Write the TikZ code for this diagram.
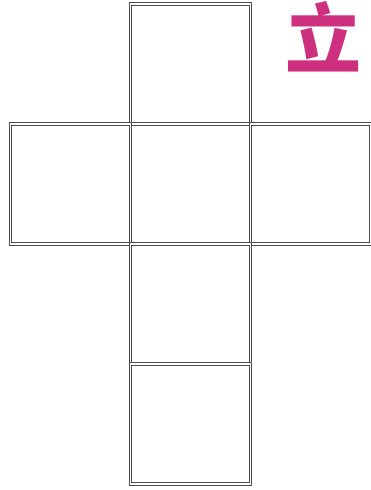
\documentclass[tikz,border=0pt]{standalone}
\usepackage{fontspec}
\usepackage[dvipsnames]{xcolor}
\usepackage{tikz}
\usetikzlibrary{positioning}
\newfontfamily\cjk{Noto Sans CJK SC}
\definecolor{inkpink}{RGB}{206,48,128}
\tikzstyle{face} = [draw=black!70, line width=0.9pt, double=white, double distance=1.3pt,
  minimum width=120pt, minimum height=120pt, inner sep=0pt, outer sep=0pt]
\tikzstyle{glyph} = [text=inkpink, inner sep=0pt,
  font={\cjk\bfseries\fontsize{76pt}{76pt}\selectfont}]

\begin{document}
\begin{tikzpicture}[x=1pt, y=-1pt, node distance=0pt]
\useasboundingbox (0,0) rectangle (371,490);
% cube net
\node[face] (top) at (190.5,64) {};
\node[face, below=of top] (front) {};
\node[face, left=of front] (left) {};
\node[face, right=of front] (right) {};
\node[face, below=of front] (bottom) {};
\node[face, below=of bottom] (back) {};
% corner mark
\node[glyph] (mark) at (323,37) {立};
\end{tikzpicture}
\end{document}
